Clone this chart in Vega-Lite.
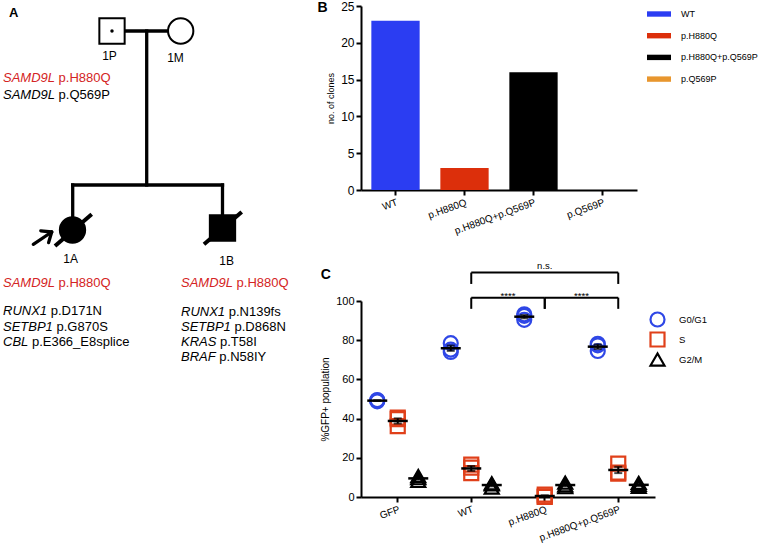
{
  "$schema": "https://vega.github.io/schema/vega-lite/v6.json",
  "padding": 0,
  "background": "white",
  "bounds": "flush",
  "spacing": 101,
  "config": {
    "view": {"stroke": null},
    "font": "Liberation Sans",
    "axis": {"domainColor": "black", "domainWidth": 2, "tickColor": "black", "tickWidth": 2, "tickSize": 5, "labelColor": "black", "titleColor": "black", "grid": false, "titleFontWeight": "normal", "labelFont": "Liberation Sans", "titleFont": "Liberation Sans", "labelOverlap": false},
    "legend": {"labelFont": "Liberation Sans", "labelColor": "black"},
    "text": {"font": "Liberation Sans"}
  },
  "resolve": {"scale": {"color": "independent", "shape": "independent", "fill": "independent", "x": "independent", "y": "independent"}},
  "hconcat": [
    {
      "width": 260,
      "height": 460,
      "layer": [
        {
          "data": {"values": [
            {"x1": 124, "y1": 25, "x2": 169, "y2": 25},
            {"x1": 146.7, "y1": 25, "x2": 146.7, "y2": 179},
            {"x1": 72.7, "y1": 179, "x2": 222.5, "y2": 179},
            {"x1": 72.7, "y1": 179, "x2": 72.7, "y2": 212},
            {"x1": 222.5, "y1": 179, "x2": 222.5, "y2": 209}
          ]},
          "mark": {"type": "rule", "strokeWidth": 3.3, "strokeCap": "square", "color": "black"},
          "encoding": {
            "x": {"field": "x1", "type": "quantitative", "scale": {"domain": [0, 260], "nice": false, "zero": false}, "axis": null},
            "y": {"field": "y1", "type": "quantitative", "scale": {"domain": [0, 460], "reverse": true, "nice": false, "zero": false}, "axis": null},
            "x2": {"field": "x2"},
            "y2": {"field": "y2"}
          }
        },
        {
          "data": {"values": [
            {"x1": 55, "y1": 240, "x2": 91.7, "y2": 208.3},
            {"x1": 204, "y1": 238.3, "x2": 241.7, "y2": 206}
          ]},
          "mark": {"type": "rule", "strokeWidth": 4, "color": "black"},
          "encoding": {
            "x": {"field": "x1", "type": "quantitative", "scale": {"domain": [0, 260], "nice": false, "zero": false}, "axis": null},
            "y": {"field": "y1", "type": "quantitative", "scale": {"domain": [0, 460], "reverse": true, "nice": false, "zero": false}, "axis": null},
            "x2": {"field": "x2"},
            "y2": {"field": "y2"}
          }
        },
        {
          "data": {"values": [
            {"x1": 33.3, "y1": 238.3, "x2": 51.7, "y2": 226},
            {"x1": 51.7, "y1": 226, "x2": 48.6, "y2": 236.6},
            {"x1": 51.7, "y1": 226, "x2": 40.8, "y2": 224.8}
          ]},
          "mark": {"type": "rule", "strokeWidth": 3.3, "strokeCap": "round", "color": "black"},
          "encoding": {
            "x": {"field": "x1", "type": "quantitative", "scale": {"domain": [0, 260], "nice": false, "zero": false}, "axis": null},
            "y": {"field": "y1", "type": "quantitative", "scale": {"domain": [0, 460], "reverse": true, "nice": false, "zero": false}, "axis": null},
            "x2": {"field": "x2"},
            "y2": {"field": "y2"}
          }
        },
        {
          "data": {"values": [
            {"id": "1P", "sex": "male", "affected": "no", "carrier": "yes", "x": 112, "y": 25, "lx": 109.5, "ly": 50},
            {"id": "1M", "sex": "female", "affected": "no", "carrier": "no", "x": 180.7, "y": 25, "lx": 175.5, "ly": 52},
            {"id": "1A", "sex": "female", "affected": "yes", "carrier": "no", "x": 72.5, "y": 224, "lx": 70.7, "ly": 253.3},
            {"id": "1B", "sex": "male", "affected": "yes", "carrier": "no", "x": 222.5, "y": 222, "lx": 226.7, "ly": 255}
          ]},
          "layer": [
            {
              "mark": {"type": "point", "filled": true, "stroke": "black", "strokeWidth": 2, "size": 640, "opacity": 1},
              "encoding": {
                "x": {"field": "x", "type": "quantitative", "scale": {"domain": [0, 260], "nice": false, "zero": false}, "axis": null},
                "y": {"field": "y", "type": "quantitative", "scale": {"domain": [0, 460], "reverse": true, "nice": false, "zero": false}, "axis": null},
                "shape": {"field": "sex", "type": "nominal", "scale": {"domain": ["male", "female"], "range": ["square", "circle"]}, "legend": null},
                "fill": {"field": "affected", "type": "nominal", "scale": {"domain": ["yes", "no"], "range": ["black", "white"]}, "legend": null}
              }
            },
            {
              "transform": [{"filter": "datum.carrier === 'yes'"}],
              "mark": {"type": "point", "shape": "circle", "filled": true, "color": "black", "size": 12, "opacity": 1},
              "encoding": {
                "x": {"field": "x", "type": "quantitative", "scale": {"domain": [0, 260], "nice": false, "zero": false}, "axis": null},
                "y": {"field": "y", "type": "quantitative", "scale": {"domain": [0, 460], "reverse": true, "nice": false, "zero": false}, "axis": null}
              }
            },
            {
              "mark": {"type": "text", "fontSize": 12, "align": "center", "baseline": "middle", "color": "black"},
              "encoding": {
                "x": {"field": "lx", "type": "quantitative", "scale": {"domain": [0, 260], "nice": false, "zero": false}, "axis": null},
                "y": {"field": "ly", "type": "quantitative", "scale": {"domain": [0, 460], "reverse": true, "nice": false, "zero": false}, "axis": null},
                "text": {"field": "id"}
              }
            }
          ]
        },
        {
          "data": {"values": [
            {"person": "1P", "gene": "SAMD9L", "variant": "p.H880Q", "x": 3, "vx": 58.6, "y": 72},
            {"person": "1P", "gene": "SAMD9L", "variant": "p.Q569P", "x": 3, "vx": 58.6, "y": 89},
            {"person": "1A", "gene": "SAMD9L", "variant": "p.H880Q", "x": 3, "vx": 58.6, "y": 276.5},
            {"person": "1A", "gene": "RUNX1", "variant": "p.D171N", "x": 3, "vx": 50.7, "y": 305},
            {"person": "1A", "gene": "SETBP1", "variant": "p.G870S", "x": 3, "vx": 56.5, "y": 320.5},
            {"person": "1A", "gene": "CBL", "variant": "p.E366_E8splice", "x": 3, "vx": 31.9, "y": 335.7},
            {"person": "1B", "gene": "SAMD9L", "variant": "p.H880Q", "x": 181, "vx": 236.6, "y": 276.5},
            {"person": "1B", "gene": "RUNX1", "variant": "p.N139fs", "x": 181, "vx": 228.7, "y": 306},
            {"person": "1B", "gene": "SETBP1", "variant": "p.D868N", "x": 181, "vx": 234.5, "y": 321},
            {"person": "1B", "gene": "KRAS", "variant": "p.T58I", "x": 181, "vx": 220, "y": 336},
            {"person": "1B", "gene": "BRAF", "variant": "p.N58IY", "x": 181, "vx": 219.3, "y": 351}
          ]},
          "layer": [
            {
              "mark": {"type": "text", "fontSize": 13, "fontStyle": "italic", "align": "left", "baseline": "middle"},
              "encoding": {
                "x": {"field": "x", "type": "quantitative", "scale": {"domain": [0, 260], "nice": false, "zero": false}, "axis": null},
                "y": {"field": "y", "type": "quantitative", "scale": {"domain": [0, 460], "reverse": true, "nice": false, "zero": false}, "axis": null},
                "text": {"field": "gene"},
                "color": {"condition": {"test": "datum.variant === 'p.H880Q'", "value": "#d42424"}, "value": "black"}
              }
            },
            {
              "mark": {"type": "text", "fontSize": 13, "align": "left", "baseline": "middle"},
              "encoding": {
                "x": {"field": "vx", "type": "quantitative", "scale": {"domain": [0, 260], "nice": false, "zero": false}, "axis": null},
                "y": {"field": "y", "type": "quantitative", "scale": {"domain": [0, 460], "reverse": true, "nice": false, "zero": false}, "axis": null},
                "text": {"field": "variant"},
                "color": {"condition": {"test": "datum.variant === 'p.H880Q'", "value": "#d42424"}, "value": "black"}
              }
            }
          ]
        },
        {
          "data": {"values": [{"panel": "A"}]},
          "mark": {"type": "text", "fontSize": 13, "fontWeight": "bold", "align": "left", "baseline": "middle", "color": "black"},
          "encoding": {
            "x": {"datum": 9, "type": "quantitative", "scale": {"domain": [0, 260], "nice": false, "zero": false}, "axis": null},
            "y": {"datum": 7, "type": "quantitative", "scale": {"domain": [0, 460], "reverse": true, "nice": false, "zero": false}, "axis": null},
            "text": {"field": "panel"}
          }
        }
      ]
    },
    {
      "bounds": "flush",
      "spacing": 111,
      "resolve": {"scale": {"color": "independent", "shape": "independent", "x": "independent", "y": "independent"}},
      "vconcat": [
        {
          "width": 276,
          "height": 184,
          "layer": [
            {
              "data": {"values": [
                {"genotype": "WT", "clones": 23},
                {"genotype": "p.H880Q", "clones": 3},
                {"genotype": "p.H880Q+p.Q569P", "clones": 16},
                {"genotype": "p.Q569P", "clones": 0}
              ]},
              "mark": {"type": "bar"},
              "encoding": {
                "x": {"field": "genotype", "type": "nominal", "sort": null, "scale": {"domain": ["WT", "p.H880Q", "p.H880Q+p.Q569P", "p.Q569P"], "paddingInner": 0.3, "paddingOuter": 0.15}, "axis": {"title": null, "labelAngle": -20, "labelFontSize": 10, "labelPadding": 2}},
                "y": {"field": "clones", "type": "quantitative", "scale": {"domain": [0, 25], "nice": false}, "axis": {"values": [0, 5, 10, 15, 20, 25], "title": "no. of clones", "titleFontSize": 9, "labelFontSize": 12, "labelPadding": 2, "titlePadding": 5}},
                "color": {"field": "genotype", "type": "nominal", "sort": null, "scale": {"domain": ["WT", "p.H880Q", "p.H880Q+p.Q569P", "p.Q569P"], "range": ["#2b3df2", "#dc2f0b", "#000000", "#e8962e"]}, "legend": {"title": null, "orient": "none", "legendX": 292, "legendY": 2, "symbolType": "M-2,-0.45H2V0.45H-2Z", "symbolSize": 144, "symbolStrokeWidth": 0, "labelFontSize": 9, "labelOffset": 16, "rowPadding": 10.7, "padding": 0}}
              }
            },
            {
              "data": {"values": [{"panel": "B"}]},
              "mark": {"type": "text", "fontSize": 14, "fontWeight": "bold", "align": "left", "baseline": "middle", "dx": -78, "dy": 2, "color": "black"},
              "encoding": {
                "x": {"datum": "WT", "type": "nominal", "scale": {"domain": ["WT", "p.H880Q", "p.H880Q+p.Q569P", "p.Q569P"], "paddingInner": 0.3, "paddingOuter": 0.15}, "axis": {"title": null, "labelAngle": -20, "labelFontSize": 10, "labelPadding": 2}},
                "y": {"datum": 25, "type": "quantitative", "scale": {"domain": [0, 25], "nice": false}, "axis": {"values": [0, 5, 10, 15, 20, 25], "title": "no. of clones", "titleFontSize": 9, "labelFontSize": 12, "labelPadding": 2, "titlePadding": 5}},
                "text": {"field": "panel"}
              }
            }
          ]
        },
        {
          "width": 294,
          "height": 196,
          "layer": [
            {
              "data": {"values": [
                {"genotype": "GFP", "phase": "G0/G1", "pct": 49.5},
                {"genotype": "GFP", "phase": "G0/G1", "pct": 48.8},
                {"genotype": "GFP", "phase": "G0/G1", "pct": 49.2},
                {"genotype": "WT", "phase": "G0/G1", "pct": 78.5},
                {"genotype": "WT", "phase": "G0/G1", "pct": 74},
                {"genotype": "WT", "phase": "G0/G1", "pct": 75.2},
                {"genotype": "p.H880Q", "phase": "G0/G1", "pct": 93.2},
                {"genotype": "p.H880Q", "phase": "G0/G1", "pct": 90.4},
                {"genotype": "p.H880Q", "phase": "G0/G1", "pct": 92.4},
                {"genotype": "p.H880Q+p.Q569P", "phase": "G0/G1", "pct": 78.2},
                {"genotype": "p.H880Q+p.Q569P", "phase": "G0/G1", "pct": 74.5},
                {"genotype": "p.H880Q+p.Q569P", "phase": "G0/G1", "pct": 77.4},
                {"genotype": "GFP", "phase": "S", "pct": 40.5},
                {"genotype": "GFP", "phase": "S", "pct": 36.2},
                {"genotype": "GFP", "phase": "S", "pct": 39.7},
                {"genotype": "WT", "phase": "S", "pct": 16.5},
                {"genotype": "WT", "phase": "S", "pct": 12.2},
                {"genotype": "WT", "phase": "S", "pct": 15},
                {"genotype": "p.H880Q", "phase": "S", "pct": 1.2},
                {"genotype": "p.H880Q", "phase": "S", "pct": 0},
                {"genotype": "p.H880Q", "phase": "S", "pct": 0.3},
                {"genotype": "p.H880Q+p.Q569P", "phase": "S", "pct": 17},
                {"genotype": "p.H880Q+p.Q569P", "phase": "S", "pct": 11.9},
                {"genotype": "p.H880Q+p.Q569P", "phase": "S", "pct": 12.5},
                {"genotype": "GFP", "phase": "G2/M", "pct": 10.7},
                {"genotype": "GFP", "phase": "G2/M", "pct": 8.2},
                {"genotype": "GFP", "phase": "G2/M", "pct": 9.6},
                {"genotype": "WT", "phase": "G2/M", "pct": 7},
                {"genotype": "WT", "phase": "G2/M", "pct": 4.8},
                {"genotype": "WT", "phase": "G2/M", "pct": 6.5},
                {"genotype": "p.H880Q", "phase": "G2/M", "pct": 7.3},
                {"genotype": "p.H880Q", "phase": "G2/M", "pct": 5},
                {"genotype": "p.H880Q", "phase": "G2/M", "pct": 6},
                {"genotype": "p.H880Q+p.Q569P", "phase": "G2/M", "pct": 7.2},
                {"genotype": "p.H880Q+p.Q569P", "phase": "G2/M", "pct": 5.2},
                {"genotype": "p.H880Q+p.Q569P", "phase": "G2/M", "pct": 6.2}
              ]},
              "layer": [
                {
                  "mark": {"type": "point", "filled": false, "strokeWidth": 2.2, "size": 196, "opacity": 1},
                  "encoding": {
                    "x": {"field": "genotype", "type": "nominal", "sort": null, "scale": {"domain": ["GFP", "WT", "p.H880Q", "p.H880Q+p.Q569P"], "paddingInner": 0, "paddingOuter": 0}, "axis": {"title": null, "labelAngle": -20, "labelFontSize": 10, "labelPadding": 2}},
                    "xOffset": {"field": "phase", "type": "nominal", "sort": null, "scale": {"domain": ["G0/G1", "S", "G2/M"], "paddingInner": 0, "paddingOuter": 0.293}},
                    "y": {"field": "pct", "type": "quantitative", "scale": {"domain": [0, 100], "nice": false}, "axis": {"values": [0, 20, 40, 60, 80, 100], "title": "%GFP+ population", "titleFontSize": 10, "labelFontSize": 11, "labelPadding": 2, "titlePadding": 5}},
                    "color": {"field": "phase", "type": "nominal", "sort": null, "scale": {"domain": ["G0/G1", "S", "G2/M"], "range": ["#2f47e6", "#e0401a", "#000000"]}, "legend": {"title": null, "orient": "none", "legendX": 288, "legendY": 10, "symbolSize": 196, "symbolStrokeWidth": 2.2, "labelFontSize": 9.5, "labelOffset": 13, "rowPadding": -5.5, "padding": 0}},
                    "shape": {"field": "phase", "type": "nominal", "sort": null, "scale": {"domain": ["G0/G1", "S", "G2/M"], "range": ["circle", "square", "triangle-up"]}, "legend": {"title": null, "orient": "none", "legendX": 288, "legendY": 10, "symbolSize": 196, "symbolStrokeWidth": 2.2, "labelFontSize": 9.5, "labelOffset": 13, "rowPadding": -5.5, "padding": 0}}
                  }
                },
                {
                  "mark": {"type": "errorbar", "extent": "stderr", "color": "black", "thickness": 2, "ticks": {"size": 8, "color": "black"}},
                  "encoding": {
                    "x": {"field": "genotype", "type": "nominal", "sort": null, "scale": {"domain": ["GFP", "WT", "p.H880Q", "p.H880Q+p.Q569P"], "paddingInner": 0, "paddingOuter": 0}, "axis": {"title": null, "labelAngle": -20, "labelFontSize": 10, "labelPadding": 2}},
                    "xOffset": {"field": "phase", "type": "nominal", "sort": null, "scale": {"domain": ["G0/G1", "S", "G2/M"], "paddingInner": 0, "paddingOuter": 0.293}},
                    "y": {"field": "pct", "type": "quantitative", "scale": {"domain": [0, 100], "nice": false}, "axis": {"values": [0, 20, 40, 60, 80, 100], "title": "%GFP+ population", "titleFontSize": 10, "labelFontSize": 11, "labelPadding": 2, "titlePadding": 5}}
                  }
                },
                {
                  "mark": {"type": "tick", "orient": "horizontal", "size": 20, "thickness": 2.5, "color": "black", "opacity": 1},
                  "encoding": {
                    "x": {"field": "genotype", "type": "nominal", "sort": null, "scale": {"domain": ["GFP", "WT", "p.H880Q", "p.H880Q+p.Q569P"], "paddingInner": 0, "paddingOuter": 0}, "axis": {"title": null, "labelAngle": -20, "labelFontSize": 10, "labelPadding": 2}},
                    "xOffset": {"field": "phase", "type": "nominal", "sort": null, "scale": {"domain": ["G0/G1", "S", "G2/M"], "paddingInner": 0, "paddingOuter": 0.293}},
                    "y": {"aggregate": "mean", "field": "pct", "type": "quantitative", "scale": {"domain": [0, 100], "nice": false}, "axis": {"values": [0, 20, 40, 60, 80, 100], "title": "%GFP+ population", "titleFontSize": 10, "labelFontSize": 11, "labelPadding": 2, "titlePadding": 5}}
                  }
                }
              ]
            },
            {
              "data": {"values": [
                {"from": "WT", "to": "p.H880Q+p.Q569P", "top": 114.5, "bottom": 108.7, "label": "n.s."},
                {"from": "WT", "to": "p.H880Q", "top": 101.7, "bottom": 96, "label": "****"},
                {"from": "p.H880Q", "to": "p.H880Q+p.Q569P", "top": 101.7, "bottom": 96, "label": "****"}
              ]},
              "layer": [
                {
                  "mark": {"type": "rule", "strokeWidth": 2, "color": "black"},
                  "encoding": {
                    "x": {"field": "from", "type": "nominal", "scale": {"domain": ["GFP", "WT", "p.H880Q", "p.H880Q+p.Q569P"], "paddingInner": 0, "paddingOuter": 0}, "axis": {"title": null, "labelAngle": -20, "labelFontSize": 10, "labelPadding": 2}},
                    "x2": {"field": "to"},
                    "y": {"field": "top", "type": "quantitative", "scale": {"domain": [0, 100], "nice": false}, "axis": {"values": [0, 20, 40, 60, 80, 100], "title": "%GFP+ population", "titleFontSize": 10, "labelFontSize": 11, "labelPadding": 2, "titlePadding": 5}}
                  }
                },
                {
                  "mark": {"type": "rule", "strokeWidth": 2, "color": "black"},
                  "encoding": {
                    "x": {"field": "from", "type": "nominal", "scale": {"domain": ["GFP", "WT", "p.H880Q", "p.H880Q+p.Q569P"], "paddingInner": 0, "paddingOuter": 0}, "axis": {"title": null, "labelAngle": -20, "labelFontSize": 10, "labelPadding": 2}},
                    "y": {"field": "top", "type": "quantitative", "scale": {"domain": [0, 100], "nice": false}, "axis": {"values": [0, 20, 40, 60, 80, 100], "title": "%GFP+ population", "titleFontSize": 10, "labelFontSize": 11, "labelPadding": 2, "titlePadding": 5}},
                    "y2": {"field": "bottom"}
                  }
                },
                {
                  "mark": {"type": "rule", "strokeWidth": 2, "color": "black"},
                  "encoding": {
                    "x": {"field": "to", "type": "nominal", "scale": {"domain": ["GFP", "WT", "p.H880Q", "p.H880Q+p.Q569P"], "paddingInner": 0, "paddingOuter": 0}, "axis": {"title": null, "labelAngle": -20, "labelFontSize": 10, "labelPadding": 2}},
                    "y": {"field": "top", "type": "quantitative", "scale": {"domain": [0, 100], "nice": false}, "axis": {"values": [0, 20, 40, 60, 80, 100], "title": "%GFP+ population", "titleFontSize": 10, "labelFontSize": 11, "labelPadding": 2, "titlePadding": 5}},
                    "y2": {"field": "bottom"}
                  }
                },
                {
                  "transform": [{"filter": "datum.label === '****'"}],
                  "mark": {"type": "text", "fontSize": 9.5, "align": "center", "baseline": "alphabetic", "dx": 36.75, "dy": 1, "color": "black"},
                  "encoding": {
                    "x": {"field": "from", "type": "nominal", "scale": {"domain": ["GFP", "WT", "p.H880Q", "p.H880Q+p.Q569P"], "paddingInner": 0, "paddingOuter": 0}, "axis": {"title": null, "labelAngle": -20, "labelFontSize": 10, "labelPadding": 2}},
                    "y": {"field": "top", "type": "quantitative", "scale": {"domain": [0, 100], "nice": false}, "axis": {"values": [0, 20, 40, 60, 80, 100], "title": "%GFP+ population", "titleFontSize": 10, "labelFontSize": 11, "labelPadding": 2, "titlePadding": 5}},
                    "text": {"field": "label"}
                  }
                },
                {
                  "transform": [{"filter": "datum.label === 'n.s.'"}],
                  "mark": {"type": "text", "fontSize": 9.5, "align": "center", "baseline": "alphabetic", "dx": 73.5, "dy": -3.5, "color": "black"},
                  "encoding": {
                    "x": {"field": "from", "type": "nominal", "scale": {"domain": ["GFP", "WT", "p.H880Q", "p.H880Q+p.Q569P"], "paddingInner": 0, "paddingOuter": 0}, "axis": {"title": null, "labelAngle": -20, "labelFontSize": 10, "labelPadding": 2}},
                    "y": {"field": "top", "type": "quantitative", "scale": {"domain": [0, 100], "nice": false}, "axis": {"values": [0, 20, 40, 60, 80, 100], "title": "%GFP+ population", "titleFontSize": 10, "labelFontSize": 11, "labelPadding": 2, "titlePadding": 5}},
                    "text": {"field": "label"}
                  }
                }
              ]
            },
            {
              "data": {"values": [{"panel": "C"}]},
              "mark": {"type": "text", "fontSize": 14, "fontWeight": "bold", "align": "left", "baseline": "middle", "dx": -77, "color": "black"},
              "encoding": {
                "x": {"datum": "GFP", "type": "nominal", "scale": {"domain": ["GFP", "WT", "p.H880Q", "p.H880Q+p.Q569P"], "paddingInner": 0, "paddingOuter": 0}, "axis": {"title": null, "labelAngle": -20, "labelFontSize": 10, "labelPadding": 2}},
                "y": {"datum": 113.3, "type": "quantitative", "scale": {"domain": [0, 100], "nice": false}, "axis": {"values": [0, 20, 40, 60, 80, 100], "title": "%GFP+ population", "titleFontSize": 10, "labelFontSize": 11, "labelPadding": 2, "titlePadding": 5}},
                "text": {"field": "panel"}
              }
            }
          ]
        }
      ]
    }
  ]
}
